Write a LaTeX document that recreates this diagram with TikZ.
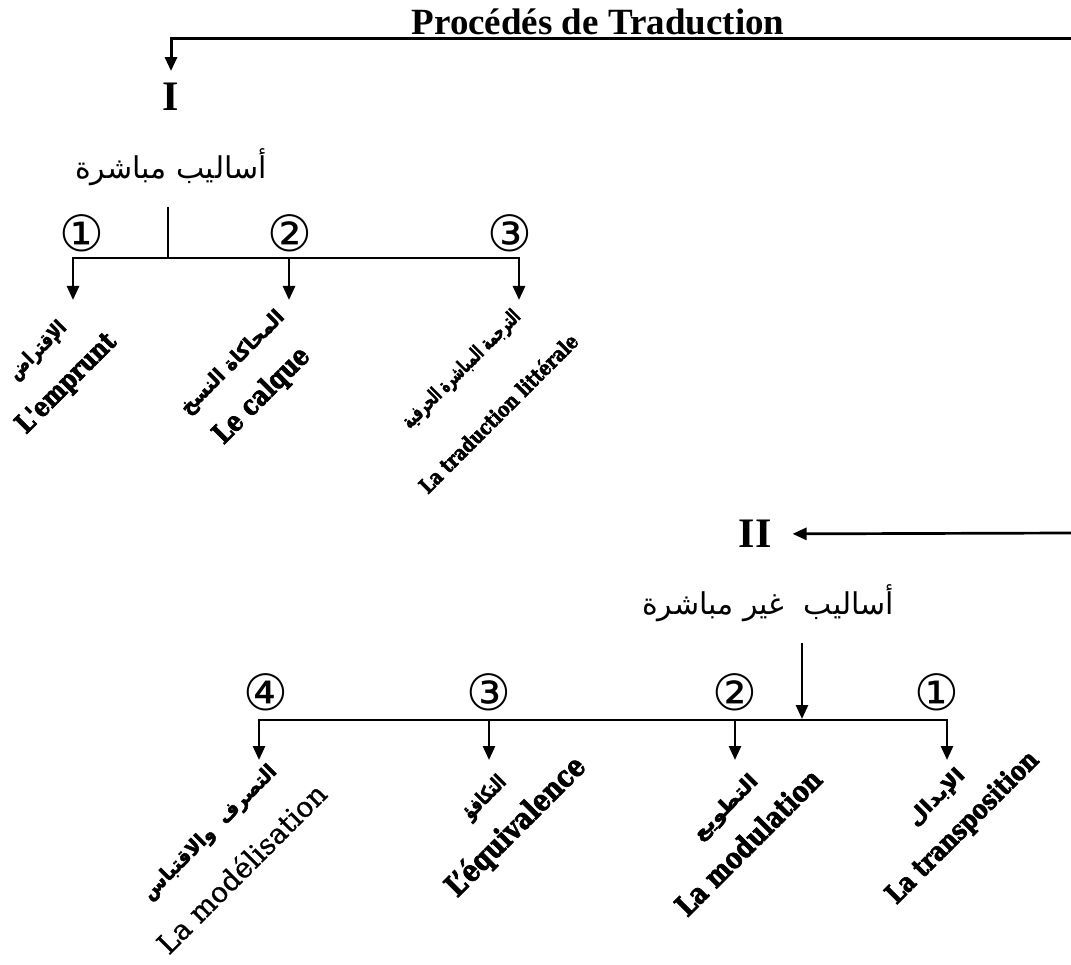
\documentclass[tikz,border=0pt]{standalone}
\usepackage{graphicx}
\usepackage{fontspec}
\setmainfont{Liberation Serif}
\newfontfamily\arabicfont[Script=Arabic, BoldFeatures={FakeBold=2.2}]{DejaVu Sans}
\newfontfamily\labelfont[FakeBold=1, BoldFeatures={FakeStretch=0.82, FakeBold=2.4}]{DejaVu Serif}
\newfontfamily\numfont{DejaVu Sans}
\TeXXeTstate=1
\usepackage{tikz}
\usetikzlibrary{arrows.meta}
\newcommand{\squeeze}[2]{\scalebox{#1}[1]{#2}}

\tikzset{
  wire/.style={line width=2.7pt},
  branch/.style={wire, -{Triangle[width=12pt,length=14pt]}},
  num/.style={font=\numfont\fontsize{50}{50}\selectfont, inner sep=0pt},
  roman/.style={font=\bfseries\fontsize{42}{42}\selectfont, inner sep=0pt},
  head/.style={font=\arabicfont\fontsize{30}{30}\selectfont, inner sep=0pt},
  arlab/.style={rotate=45, inner sep=0pt, font=\arabicfont\bfseries\fontsize{20}{20}\selectfont},
  frlab/.style={rotate=45, inner sep=0pt, font=\labelfont\bfseries\fontsize{#1}{#1}\selectfont},
  frthin/.style={rotate=45, inner sep=0pt, font=\labelfont\fontsize{#1}{#1}\selectfont}
}

\begin{document}
\begin{tikzpicture}[x=1pt, y=-1pt]
  \useasboundingbox (0,0) rectangle (1071,965);

  % title, underlined by the line that leads to I
  \node[font=\bfseries\fontsize{37}{37}\selectfont, anchor=base] (title) at (598,35) {Procédés de Traduction};
  \coordinate (edge1) at (1071,39);
  \node[roman] (I) at (171,97) {I};
  \draw[branch, line width=3pt, shorten >=12pt] (edge1) -| (I.north);

  % I : direct procedures
  \node[head] (direct) at (171,167) {\beginR أساليب مباشرة\endR};
  \coordinate (stem1) at (168,207);
  \coordinate (join1) at (168,258);
  \coordinate (b2) at (289,258);
  \coordinate (t1) at (73,300);
  \coordinate (t2) at (289,300);
  \coordinate (t3) at (519,300);
  \draw[wire] (stem1) -- (join1);
  \draw[branch] (join1) -| (t1);
  \draw[branch] (join1) -| (t3);
  \draw[branch] (b2) -- (t2);

  \node[num] (n1) at (82,233) {①};
  \node[num] (n2) at (290,233) {②};
  \node[num] (n3) at (510,233) {③};

  \node[arlab] (ar-emprunt) at (38,351) {\squeeze{0.82}{\beginR الإقتراض\endR}};
  \node[frlab=27] (emprunt) at (67,384) {L'emprunt};
  \node[arlab] (ar-calque) at (233,363) {\squeeze{0.95}{\beginR المحاكاة النسخ\endR}};
  \node[frlab=28] (calque) at (262,396) {Le calque};
  \node[arlab] (ar-litterale) at (462,370) {\squeeze{0.63}{\beginR الترجمة المباشرة الحرفية\endR}};
  \node[frlab=21] (litterale) at (498,413) {La traduction littérale};

  % II : indirect procedures
  \coordinate (edge2) at (1071,533);
  \node[roman] (II) at (755,534) {II};
  \draw[branch, shorten >=21pt] (edge2) -- (II);

  \node[head] (indirect) at (768,603) {\beginR أساليب\ \ غير مباشرة\endR};
  \coordinate (stem2) at (802,643);
  \coordinate (join2) at (802,719);
  \draw[branch] (stem2) -- (join2);
  \coordinate (c2) at (735,720);
  \coordinate (c3) at (489,720);
  \coordinate (u1) at (947,760);
  \coordinate (u2) at (735,760);
  \coordinate (u3) at (489,760);
  \coordinate (u4) at (259,760);
  \draw[wire] (c2) -- (c3);
  \draw[branch] (c2) -| (u1);
  \draw[branch] (c3) -| (u4);
  \draw[branch] (c2) -- (u2);
  \draw[branch] (c3) -- (u3);

  \node[num] (m4) at (266,692) {④};
  \node[num] (m3) at (489,692) {③};
  \node[num] (m2) at (735,692) {②};
  \node[num] (m1) at (937,692) {①};

  \node[arlab] (ar-modeli) at (210,833) {\squeeze{0.95}{\beginR التصرف\ \ والاقتباس\endR}};
  \node[frthin=28] (modeli) at (241,868) {La modélisation};
  \node[arlab] (ar-equiv) at (485,798) {\squeeze{0.78}{\beginR التكافؤ\endR}};
  \node[frlab=30] (equiv) at (516,827) {L’équivalence};
  \node[arlab] (ar-modul) at (726,808) {\squeeze{1.1}{\beginR التطويع\endR}};
  \node[frlab=29] (modul) at (748,842) {La modulation};
  \node[arlab] (ar-transpo) at (937,798) {\squeeze{1.1}{\beginR الإبدال\endR}};
  \node[frlab=27] (transpo) at (963,828) {La transposition};
\end{tikzpicture}
\end{document}
